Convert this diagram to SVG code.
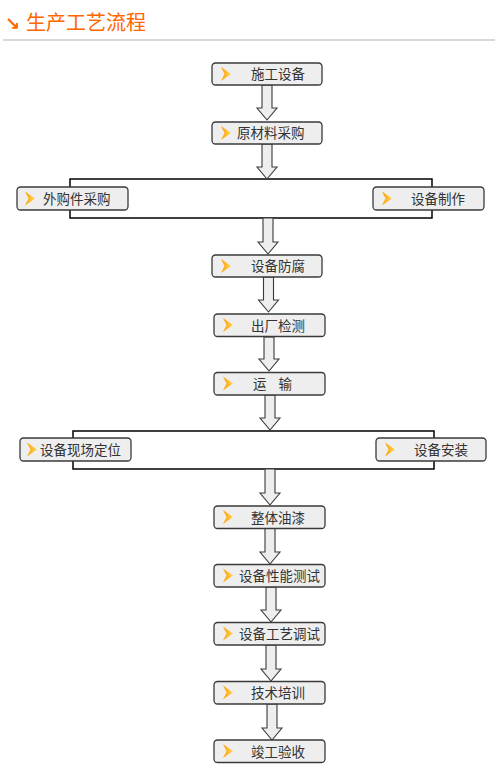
<svg xmlns="http://www.w3.org/2000/svg" width="500" height="780" viewBox="0 0 500 780">
<defs>
<linearGradient id="ig" x1="0" y1="0" x2="1" y2="0">
<stop offset="0" stop-color="#ff9d00"/>
<stop offset="1" stop-color="#ffd75a"/>
</linearGradient>
<symbol id="icon" viewBox="0 0 10 14" overflow="visible">
<polygon points="0,0 10,7 0,14 3.5,7" fill="url(#ig)"/>
</symbol>
<style>
.box{fill:#eeeeee;stroke:#3a3a3a;stroke-width:1.3}
.lbl{font-family:"Noto Sans CJK SC","Noto Sans",sans-serif;font-size:13.5px;fill:#333}
.arr{fill:#eeeeee;stroke:#3a3a3a;stroke-width:1.1;stroke-linejoin:miter}
.br{fill:none;stroke:#000;stroke-width:1.5}
</style>
</defs>
<rect width="500" height="780" fill="#fff"/>
<g id="title">
<text x="5" y="30" font-family="DejaVu Sans,sans-serif" font-size="18" font-weight="bold" fill="#ff6600">↘</text>
<text x="26" y="30" font-family="Noto Sans CJK SC,sans-serif" font-size="20" fill="#ff6600">生产工艺流程</text>
<line x1="3" y1="40" x2="495" y2="40" stroke="#cccccc" stroke-width="1.3"/>
</g>
<g id="connectors">
<rect class="br" x="70" y="179" width="362" height="39"/>
<rect class="br" x="73" y="431" width="361" height="38"/>
<path class="arr" d="M262,85 h10 v23 h5 l-10,12 l-10,-12 h5 z"/>
<path class="arr" d="M262,144 h10 v23 h5 l-10,12 l-10,-12 h5 z"/>
<path class="arr" d="M263,218 h10 v24 h5 l-10,12 l-10,-12 h5 z"/>
<path class="arr" d="M263.5,277 h10 v23 h5 l-10,12 l-10,-12 h5 z"/>
<path class="arr" d="M264,337 h10 v22 h5 l-10,12 l-10,-12 h5 z"/>
<path class="arr" d="M265,395 h10 v23 h5 l-10,12 l-10,-12 h5 z"/>
<path class="arr" d="M265,469 h10 v24 h5 l-10,12 l-10,-12 h5 z"/>
<path class="arr" d="M265,528 h10 v24 h5 l-10,12 l-10,-12 h5 z"/>
<path class="arr" d="M266,587 h10 v23 h5 l-10,12 l-10,-12 h5 z"/>
<path class="arr" d="M266,645 h10 v24 h5 l-10,12 l-10,-12 h5 z"/>
<path class="arr" d="M267,704 h10 v24 h5 l-10,12 l-10,-12 h5 z"/>
</g>
<g id="n1"><rect class="box" x="212" y="63" width="110" height="22" rx="3.5"/><use href="#icon" x="221" y="67" width="10" height="14"/><text class="lbl" x="251" y="79">施工设备</text></g>
<g id="n2"><rect class="box" x="212" y="122" width="110" height="22" rx="3.5"/><use href="#icon" x="221" y="126" width="10" height="14"/><text class="lbl" x="237" y="138">原材料采购</text></g>
<g id="n3"><rect class="box" x="17" y="187" width="111" height="23" rx="3.5"/><use href="#icon" x="25" y="191.5" width="10" height="14"/><text class="lbl" x="43" y="203.5">外购件采购</text></g>
<g id="n4"><rect class="box" x="373" y="187" width="111" height="23" rx="3.5"/><use href="#icon" x="382" y="191.5" width="10" height="14"/><text class="lbl" x="411" y="203.5">设备制作</text></g>
<g id="n5"><rect class="box" x="212" y="255" width="110" height="22" rx="3.5"/><use href="#icon" x="221" y="259" width="10" height="14"/><text class="lbl" x="251" y="271">设备防腐</text></g>
<g id="n6"><rect class="box" x="214" y="314" width="111" height="22.5" rx="3.5"/><use href="#icon" x="223" y="318" width="10" height="14"/><text class="lbl" x="251" y="330.5">出厂检测</text></g>
<g id="n7"><rect class="box" x="214" y="372.5" width="111" height="22.5" rx="3.5"/><use href="#icon" x="223" y="376.5" width="10" height="14"/><text class="lbl" x="253" y="389" xml:space="preserve" word-spacing="9">运 输</text></g>
<g id="n8"><rect class="box" x="20" y="438" width="111" height="23" rx="3.5"/><use href="#icon" x="27" y="442.5" width="10" height="14"/><text class="lbl" x="40" y="454.5">设备现场定位</text></g>
<g id="n9"><rect class="box" x="376" y="438" width="110" height="23" rx="3.5"/><use href="#icon" x="385" y="442.5" width="10" height="14"/><text class="lbl" x="414" y="454.5">设备安装</text></g>
<g id="n10"><rect class="box" x="214" y="506" width="111" height="22.5" rx="3.5"/><use href="#icon" x="223" y="510" width="10" height="14"/><text class="lbl" x="251" y="522.5">整体油漆</text></g>
<g id="n11"><rect class="box" x="214" y="564.5" width="111" height="22.5" rx="3.5"/><use href="#icon" x="223" y="568.5" width="10" height="14"/><text class="lbl" x="239" y="581">设备性能测试</text></g>
<g id="n12"><rect class="box" x="214" y="622.5" width="111" height="22.5" rx="3.5"/><use href="#icon" x="223" y="626.5" width="10" height="14"/><text class="lbl" x="239" y="639">设备工艺调试</text></g>
<g id="n13"><rect class="box" x="214" y="681.5" width="111" height="22.5" rx="3.5"/><use href="#icon" x="223" y="685.5" width="10" height="14"/><text class="lbl" x="251" y="698">技术培训</text></g>
<g id="n14"><rect class="box" x="214" y="740" width="111" height="22.5" rx="3.5"/><use href="#icon" x="223" y="744" width="10" height="14"/><text class="lbl" x="251" y="756.5">竣工验收</text></g>
</svg>
